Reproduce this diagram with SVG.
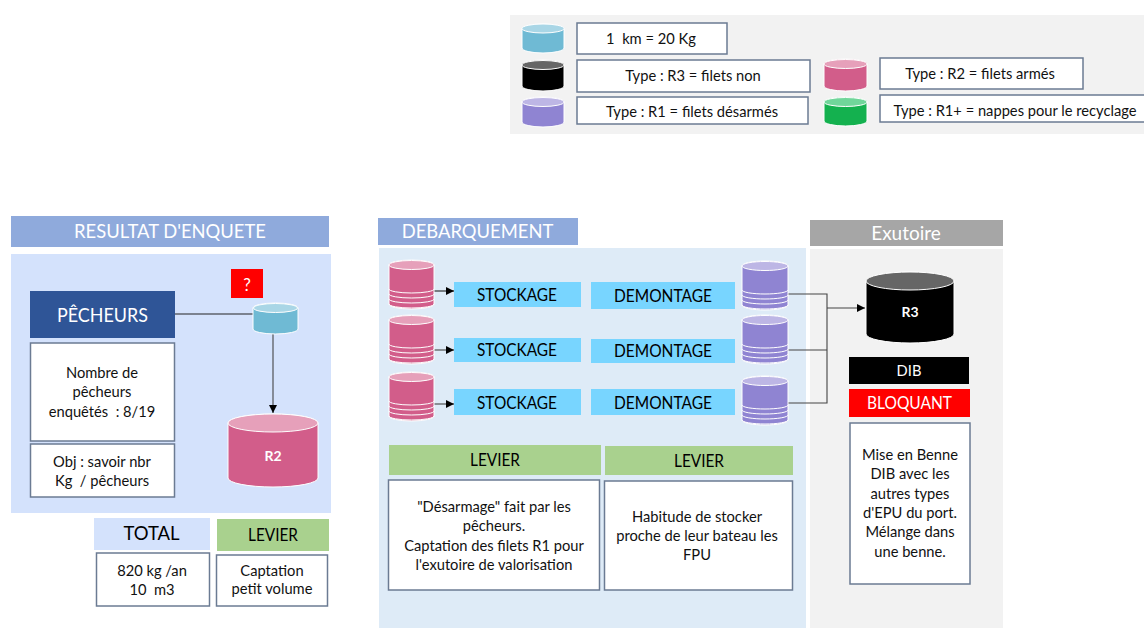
<svg xmlns="http://www.w3.org/2000/svg" width="1144" height="628" viewBox="0 0 1144 628">
<style>
text{font-family:"Lato","Carlito","Open Sans",sans-serif;text-anchor:middle;fill:#111;white-space:pre}
.t{font-size:14.7px}
.h{font-size:18.4px;fill:#fff}
.b{font-size:17px;fill:#000}
.box{fill:#fff;stroke:#6b7b93;stroke-width:1.5}
.cyl{stroke:#fff;stroke-width:1}
.line{fill:none;stroke:#444;stroke-width:1.1}
.dark{fill:none;stroke:#222;stroke-width:1.1}
</style>
<defs>
<marker id="arr" markerWidth="10" markerHeight="10" refX="8" refY="4" orient="auto" markerUnits="userSpaceOnUse"><path d="M0 0L8 4L0 8Z" fill="#000"/></marker>
<g id="stackP">
<path class="cyl" fill="#d25d8a" d="M0 5A22.5 5 0 0 1 45 5V44A22.5 5 0 0 1 0 44Z"/>
<ellipse class="cyl" cx="22.5" cy="5" rx="22.5" ry="4.5" fill="#e6a0ba"/>
<path d="M0 29A22.5 4 0 0 0 45 29M0 34A22.5 4 0 0 0 45 34M0 39A22.5 4 0 0 0 45 39M0 44A22.5 4 0 0 0 45 44" fill="none" stroke="#fff" stroke-width="1"/>
</g>
<g id="stackV">
<path class="cyl" fill="#8f84d2" d="M0 5A23 5 0 0 1 46 5V44A23 5 0 0 1 0 44Z"/>
<ellipse class="cyl" cx="23" cy="5" rx="23" ry="4.5" fill="#bdb6e5"/>
<path d="M0 29A23 4 0 0 0 46 29M0 34A23 4 0 0 0 46 34M0 39A23 4 0 0 0 46 39M0 44A23 4 0 0 0 46 44" fill="none" stroke="#fff" stroke-width="1"/>
</g>
</defs>

<g id="legend">
<rect x="510" y="15" width="634" height="119" fill="#f2f2f2"/>
<path class="cyl" fill="#6fbad4" d="M522 29A21 5 0 0 1 564 29V48A21 5 0 0 1 522 48Z"/><ellipse class="cyl" cx="543" cy="28.500" rx="21" ry="4.500" fill="#a9d6e6"/>
<path class="cyl" fill="#000" d="M522 65A21 5 0 0 1 564 65V86A21 5 0 0 1 522 86Z"/><ellipse class="cyl" cx="543" cy="65" rx="21" ry="4.500" fill="#666"/>
<path class="cyl" fill="#8f84d2" d="M522 102A21 5 0 0 1 564 102V122A21 5 0 0 1 522 122Z"/><ellipse class="cyl" cx="543" cy="102" rx="21" ry="4.500" fill="#bdb6e5"/>
<path class="cyl" fill="#d25d8a" d="M824 64A21.500 5 0 0 1 867 64V86A21.500 5 0 0 1 824 86Z"/><ellipse class="cyl" cx="845.500" cy="64" rx="21.500" ry="4.500" fill="#e6a0ba"/>
<path class="cyl" fill="#14b14f" d="M824 102A21.500 5 0 0 1 867 102V121A21.500 5 0 0 1 824 121Z"/><ellipse class="cyl" cx="845.500" cy="102" rx="21.500" ry="4.500" fill="#70d69a"/>
<rect class="box" x="577" y="23" width="150" height="31"/><text class="t" x="651" y="44">1  km = 20 Kg</text>
<rect class="box" x="577" y="60" width="233" height="32"/><text class="t" x="693" y="81">Type : R3 = filets non</text>
<rect class="box" x="577" y="97" width="231" height="27"/><text class="t" x="692" y="117">Type : R1 = filets désarmés</text>
<rect class="box" x="880" y="58" width="203" height="31"/><text class="t" x="980" y="79">Type : R2 = filets armés</text>
<rect class="box" x="880" y="95" width="265" height="27"/><text class="t" x="1015" y="116">Type : R1+ = nappes pour le recyclage</text>
</g>

<g id="panel-resultat">
<rect x="11" y="216" width="318" height="31" fill="#8faadc"/><text class="h" x="170" y="238">RESULTAT D'ENQUETE</text>
<rect x="11" y="254" width="320" height="259" fill="#d4e2fc"/>
</g>
<g id="panel-debarquement">
<rect x="379" y="248" width="427" height="380" fill="#deebf7"/>
<rect x="378" y="218" width="200" height="27" fill="#8faadc"/><text class="h" x="477.500" y="238">DEBARQUEMENT</text>
</g>
<g id="panel-exutoire">
<rect x="810" y="249" width="193" height="379" fill="#f2f2f2"/>
<rect x="810" y="220" width="193" height="26" fill="#a6a6a6"/><text class="h" style="font-size:19px" x="906" y="240">Exutoire</text>
</g>

<g id="connectors">
<path class="dark" d="M175 314H253"/>
<path class="line" d="M273 334V413" marker-end="url(#arr)"/>
<path class="dark" d="M434 291H454" marker-end="url(#arr)"/>
<path class="line" d="M434 350H454" marker-end="url(#arr)"/>
<path class="line" d="M434 404H454" marker-end="url(#arr)"/>
<path class="line" d="M788 294H827V403H788M788 350H827M827 308H865" marker-end="url(#arr)"/>
</g>

<g id="question"><rect x="231" y="269" width="32" height="29" fill="#ff0000"/><text style="fill:#fff;font-size:17px" x="247" y="291">?</text></g>
<g id="pecheurs"><rect x="30" y="291" width="145" height="47" fill="#2f5597"/><text class="h" style="font-size:19px" x="102.500" y="321.500" textLength="91" lengthAdjust="spacingAndGlyphs">PÊCHEURS</text></g>
<g id="nombre"><rect class="box" x="30.500" y="343" width="144" height="98"/><text class="t" x="102" y="378">Nombre de</text><text class="t" x="102" y="397">pêcheurs</text><text class="t" x="102" y="417">enquêtés  : 8/19</text></g>
<g id="obj"><rect class="box" x="30.500" y="444" width="144" height="53"/><text class="t" x="102" y="467">Obj : savoir nbr</text><text class="t" x="102" y="486">Kg  / pêcheurs</text></g>
<g id="cyl-km"><path class="cyl" fill="#6fbad4" d="M253 308A22.500 5 0 0 1 298 308V329A22.500 5 0 0 1 253 329Z"/><ellipse class="cyl" cx="275.500" cy="308" rx="22" ry="4.500" fill="#a9d6e6"/></g>
<g id="cyl-r2"><path class="cyl" fill="#d25d8a" d="M228 423A45 9 0 0 1 318 423V478A45 9 0 0 1 228 478Z"/><ellipse class="cyl" cx="273" cy="423" rx="45" ry="9" fill="#e6a0ba"/><text class="t" style="fill:#fff;font-weight:700;font-size:14px" x="273" y="461">R2</text></g>
<g id="total"><rect x="94" y="518" width="116" height="32" fill="#d4e2fc"/><text class="h" style="fill:#000;font-size:18.500px" x="151.500" y="540">TOTAL</text></g>
<g id="levier1"><rect x="217" y="519" width="112" height="32" fill="#a9d18e"/><text class="b" x="273" y="541" textLength="50" lengthAdjust="spacingAndGlyphs">LEVIER</text></g>
<g id="total-box"><rect class="box" x="96.500" y="553" width="113" height="53"/><text class="t" x="152" y="576">820 kg /an</text><text class="t" x="152" y="595">10  m3</text></g>
<g id="levier1-box"><rect class="box" x="216.500" y="555" width="111" height="51"/><text class="t" x="272" y="576">Captation</text><text class="t" x="272" y="594">petit volume</text></g>

<g id="row1"><use href="#stackP" x="389" y="260"/><rect x="454" y="282" width="127" height="25" fill="#78d5ff"/><text class="b" x="517" y="300.500" textLength="80" lengthAdjust="spacingAndGlyphs">STOCKAGE</text><rect x="591" y="282" width="144" height="27" fill="#78d5ff"/><text class="b" x="663" y="301.500" textLength="98" lengthAdjust="spacingAndGlyphs">DEMONTAGE</text><use href="#stackV" x="742" y="261"/></g>
<g id="row2"><use href="#stackP" x="389" y="315"/><rect x="454" y="338" width="127" height="24" fill="#78d5ff"/><text class="b" x="517" y="355.500" textLength="80" lengthAdjust="spacingAndGlyphs">STOCKAGE</text><rect x="591" y="339" width="144" height="24" fill="#78d5ff"/><text class="b" x="663" y="356.500" textLength="98" lengthAdjust="spacingAndGlyphs">DEMONTAGE</text><use href="#stackV" x="742" y="315"/></g>
<g id="row3"><use href="#stackP" x="389" y="372"/><rect x="454" y="389" width="127" height="26" fill="#78d5ff"/><text class="b" x="517" y="408.500" textLength="80" lengthAdjust="spacingAndGlyphs">STOCKAGE</text><rect x="591" y="389" width="144" height="26" fill="#78d5ff"/><text class="b" x="663" y="408.500" textLength="98" lengthAdjust="spacingAndGlyphs">DEMONTAGE</text><use href="#stackV" x="742" y="376"/></g>

<g id="levier2"><rect x="389" y="445" width="212" height="30" fill="#a9d18e"/><text class="b" x="495" y="466" textLength="50" lengthAdjust="spacingAndGlyphs">LEVIER</text></g>
<g id="levier2-box"><rect class="box" x="388.500" y="480" width="211" height="110"/><text class="t" x="494" y="512">"Désarmage" fait par les</text><text class="t" x="494" y="531">pêcheurs.</text><text class="t" x="494" y="551">Captation des filets R1 pour</text><text class="t" x="494" y="570">l'exutoire de valorisation</text></g>
<g id="levier3"><rect x="605" y="446" width="188" height="29" fill="#a9d18e"/><text class="b" x="699" y="467" textLength="50" lengthAdjust="spacingAndGlyphs">LEVIER</text></g>
<g id="levier3-box"><rect class="box" x="604.500" y="481" width="188" height="109"/><text class="t" x="697" y="522">Habitude de stocker</text><text class="t" x="697" y="541">proche de leur bateau les</text><text class="t" x="697" y="560">FPU</text></g>

<g id="cyl-r3"><path class="cyl" fill="#000" d="M866 281A44 9 0 0 1 954 281V334A44 9 0 0 1 866 334Z"/><ellipse class="cyl" cx="910" cy="281" rx="44" ry="9" fill="#666"/><text class="t" style="fill:#fff;font-weight:700;font-size:14px" x="910" y="317">R3</text></g>
<g id="dib"><rect x="849" y="357" width="120" height="27" fill="#000"/><text class="t" style="fill:#fff" x="909" y="376">DIB</text></g>
<g id="bloquant"><rect x="849" y="389" width="121" height="28" fill="#ff0000"/><text class="b" style="fill:#fff" x="909.500" y="409" textLength="85" lengthAdjust="spacingAndGlyphs">BLOQUANT</text></g>
<g id="mise"><rect class="box" x="850" y="423" width="120" height="161"/><text class="t" x="910" y="460">Mise en Benne</text><text class="t" x="910" y="479">DIB avec les</text><text class="t" x="910" y="499">autres types</text><text class="t" x="910" y="518">d'EPU du port.</text><text class="t" x="910" y="537">Mélange dans</text><text class="t" x="910" y="557">une benne.</text></g>
</svg>
